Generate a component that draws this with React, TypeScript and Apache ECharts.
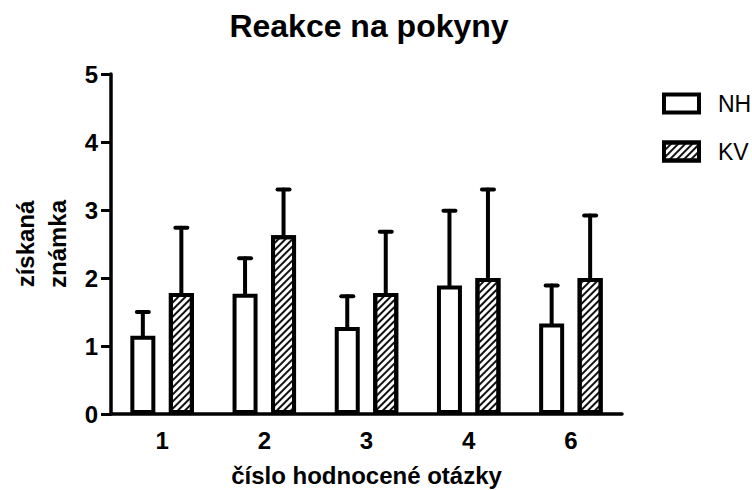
import React, { useEffect, useRef } from "react";
import * as echarts from "echarts";

const categories = ["1", "2", "3", "4", "6"];
const nhMean = [1.15, 1.77, 1.28, 1.89, 1.33];
const nhErrTop = [1.5, 2.29, 1.73, 2.99, 1.89];
const kvMean = [1.78, 2.63, 1.78, 2.0, 2.0];
const kvErrTop = [2.74, 3.3, 2.68, 3.3, 2.92];
const yTicks = [0, 1, 2, 3, 4, 5];

const FONT = "Liberation Sans, Arial, sans-serif";
const BAR_OFFSET = 19.25;

function errorSeries(name: string, means: number[], tops: number[], offset: number) {
  return {
    type: "custom",
    name: name + "-err",
    z: 5,
    silent: true,
    data: means.map((m, i) => [i, m, tops[i]]),
    renderItem: (params: any, api: any) => {
      const idx = api.value(0);
      const base = api.coord([idx, api.value(1)]);
      const top = api.coord([idx, api.value(2)]);
      const x = base[0] + offset;
      const style = { stroke: "#000", lineWidth: 4, lineCap: "round" };
      return {
        type: "group",
        children: [
          { type: "line", shape: { x1: x, y1: base[1], x2: x, y2: top[1] }, style },
          { type: "line", shape: { x1: x - 6, y1: top[1], x2: x + 6, y2: top[1] }, style },
        ],
      };
    },
  };
}

export default function App() {
  const ref = useRef<HTMLDivElement>(null);
  useEffect(() => {
    document.body.style.margin = "0";
    if (!ref.current) return;
    const chart = echarts.init(ref.current, null, { renderer: "svg" });
    const decal = {
      symbol: "rect",
      symbolSize: 1,
      dashArrayX: [1, 0],
      dashArrayY: [1.5, 2.2],
      rotation: -Math.PI / 4,
      color: "#111",
    };
    chart.setOption({
      animation: false,
      backgroundColor: "#fff",
      title: {
        text: "Reakce na pokyny",
        left: 364,
        top: 5,
        textAlign: "center",
        textStyle: { fontFamily: FONT, fontSize: 32, fontWeight: "bold", color: "#000" },
      },
      legend: {
        orient: "vertical",
        left: 657,
        top: 87,
        itemWidth: 35,
        itemHeight: 18,
        itemGap: 25,
        textStyle: { fontFamily: FONT, fontSize: 23, color: "#000", padding: [0, 0, 0, 14] },
        data: [
          { name: "NH", icon: "rect", itemStyle: { color: "#fff", borderColor: "#000", borderWidth: 4 } },
          { name: "KV", icon: "rect", itemStyle: { color: "#fff", borderColor: "#000", borderWidth: 4, decal } },
        ],
      },
      grid: { left: 111, right: 130, top: 74, bottom: 76, outerBoundsMode: "none", containLabel: false },
      xAxis: {
        type: "category",
        data: categories,
        name: "číslo hodnocené otázky",
        nameLocation: "middle",
        nameGap: 49,
        nameTextStyle: { fontFamily: FONT, fontSize: 24, fontWeight: "bold", color: "#000" },
        axisLine: { lineStyle: { color: "#000", width: 3.5 } },
        axisTick: { alignWithLabel: true, length: 9, lineStyle: { color: "#000", width: 3 } },
        axisLabel: { margin: 14, fontFamily: FONT, fontSize: 24, fontWeight: "bold", color: "#000" },
      },
      yAxis: {
        type: "value",
        min: yTicks[0],
        max: yTicks[yTicks.length - 1],
        interval: 1,
        name: "získaná\nznámka",
        nameLocation: "middle",
        nameGap: 38,
        nameTextStyle: { fontFamily: FONT, fontSize: 24, fontWeight: "bold", color: "#000", lineHeight: 32 },
        splitLine: { show: false },
        axisLine: { show: true, lineStyle: { color: "#000", width: 3.5 } },
        axisTick: { show: true, length: 10, lineStyle: { color: "#000", width: 3 } },
        axisLabel: { margin: 13, fontFamily: FONT, fontSize: 24, fontWeight: "bold", color: "#000" },
      },
      series: [
        {
          type: "bar",
          name: "NH",
          data: nhMean,
          barWidth: 25,
          barGap: "54%",
          z: 3,
          itemStyle: { color: "#fff", borderColor: "#000", borderWidth: 4 },
        },
        {
          type: "bar",
          name: "KV",
          data: kvMean,
          barWidth: 25,
          barGap: "54%",
          z: 3,
          itemStyle: { color: "#fff", borderColor: "#000", borderWidth: 4, decal },
        },
        errorSeries("NH", nhMean, nhErrTop, -BAR_OFFSET),
        errorSeries("KV", kvMean, kvErrTop, BAR_OFFSET),
      ],
    });
    return () => chart.dispose();
  }, []);
  return <div ref={ref} style={{ width: 752, height: 490 }} />;
}
